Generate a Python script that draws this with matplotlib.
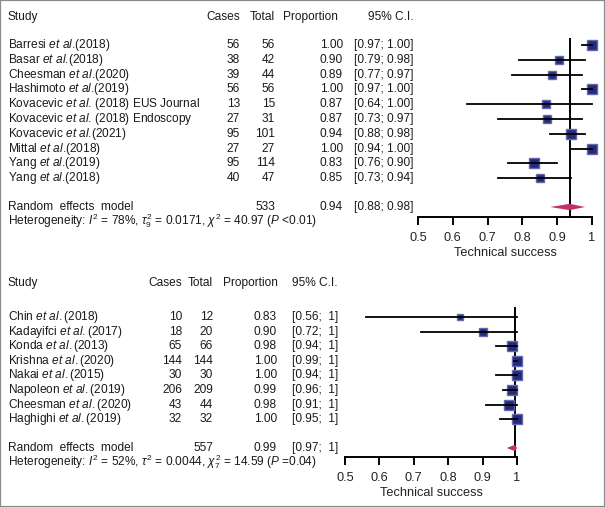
import numpy as np
import matplotlib
matplotlib.use("Agg")
import matplotlib.pyplot as plt
import matplotlib.transforms as mtransforms
from matplotlib.patches import Rectangle

plt.rcParams["font.family"] = ["Liberation Sans", "DejaVu Sans"]
plt.rcParams["mathtext.fontset"] = "custom"
plt.rcParams["mathtext.rm"] = "Liberation Sans"
plt.rcParams["mathtext.it"] = "Liberation Sans:italic"
plt.rcParams["mathtext.bf"] = "Liberation Sans:bold"

# top panel data
top_studies = ["Barresi", "Basar", "Cheesman", "Hashimoto", "Kovacevic", "Kovacevic",
               "Kovacevic", "Mittal", "Yang", "Yang"]
top_years = [".(2018)", ".(2018)", ".(2020)", ".(2019)", ". (2018) EUS Journal",
             ". (2018) Endoscopy", ".(2021)", ".(2018)", ".(2019)", ".(2018)"]
top_cases = [56, 38, 39, 56, 13, 27, 95, 27, 95, 40]
top_total = [56, 42, 44, 56, 15, 31, 101, 27, 114, 47]
top_lo = [0.97, 0.79, 0.77, 0.97, 0.64, 0.73, 0.88, 0.94, 0.76, 0.73]
top_hi = [1.00, 0.98, 0.97, 1.00, 1.00, 0.97, 0.98, 1.00, 0.90, 0.94]
top_pooled = (0.936, 0.88, 0.98)
top_het = dict(i2=78, tau2=0.0171, df=9, chi2=40.97, p="<0.01")

# bottom panel data
bot_studies = ["Chin", "Kadayifci", "Konda", "Krishna", "Nakai", "Napoleon", "Cheesman", "Haghighi"]
bot_years = ["(2018)", "(2017)", "(2013)", "(2020)", "(2015)", "(2019)", "(2020)", "(2019)"]
bot_cases = [10, 18, 65, 144, 30, 206, 43, 32]
bot_total = [12, 20, 66, 144, 30, 209, 44, 32]
bot_lo = [0.56, 0.72, 0.94, 0.99, 0.94, 0.96, 0.91, 0.95]
bot_hi = [1, 1, 1, 1, 1, 1, 1, 1]
bot_pooled = (0.994, 0.97, 1.0)
bot_het = dict(i2=52, tau2=0.0044, df=7, chi2=14.59, p="=0.04")

W, H = 605, 507
FS = 8.6
SQ_FACE = "#252a7a"
SQ_EDGE = "#6468ae"
DIAMOND = "#c2306b"

fig = plt.figure(figsize=(W / 100, H / 100), dpi=100)
fig.patches.append(Rectangle((0, 0), 1, 1, transform=fig.transFigure, fill=False,
                             edgecolor="#8a8a8a", linewidth=1.6))


def fx(px):
    return px / W


def panel(labels, cases, total, lo, hi, pooled, het, lay, ci_fmt, tau_sub):
    row0, step, ax_l, ax_r, ax_b, ax_t = lay["row0"], lay["step"], lay["l"], lay["r"], lay["b"], lay["t"]
    n = len(labels)
    ax = fig.add_axes([fx(ax_l), 1 - ax_b / H, fx(ax_r - ax_l), (ax_b - ax_t) / H])
    ax.set_xlim(0.5, 1.0)
    ax.set_ylim((ax_b - row0) / step, (ax_t - row0) / step)
    for s in ["top", "right", "left"]:
        ax.spines[s].set_visible(False)
    ax.spines["bottom"].set_linewidth(1.4)
    ax.set_yticks([])
    ax.set_xticks([0.5, 0.6, 0.7, 0.8, 0.9, 1.0])
    ax.set_xticklabels(["0.5", "0.6", "0.7", "0.8", "0.9", "1"], fontsize=FS + 0.6, color="#222222")
    ax.tick_params(axis="x", length=6, width=1.4, pad=5)
    ax.set_xlabel("Technical success", fontsize=FS + 0.6, color="#222222", labelpad=2)
    ax.patch.set_alpha(0)

    rows = np.arange(n)
    props = np.array(cases) / np.array(total)
    # random effects weights -> square size
    var = props * (1 - props) / np.array(total)
    w = 1 / (var + het["tau2"])
    sizes = lay["sq"] * np.sqrt(w / w.max()) * 72 / 100

    est, plo, phi = pooled
    rand_row = (lay["rand"] - row0) / step
    het_row = (lay["het"] - row0) / step
    head_row = (lay["head"] - row0) / step

    ax.plot([est, est], [lay["vtop"], ax.get_ylim()[0]], color="black", lw=1.4, clip_on=False, zorder=1)
    for i in range(n):
        ax.plot(props[i], rows[i], marker="s", ms=sizes[i], mfc=SQ_FACE, mec=SQ_EDGE,
                mew=1.0, clip_on=False, zorder=3)
        ax.plot([lo[i], hi[i]], [rows[i], rows[i]], color="black", lw=1.3, clip_on=False, zorder=4)
    dh = 3.2 / step
    ax.fill([plo, est, phi, est], [rand_row, rand_row - dh, rand_row, rand_row + dh],
            color=DIAMOND, clip_on=False, zorder=3, lw=0)

    tr = mtransforms.blended_transform_factory(fig.transFigure, ax.transData)
    c = lay["cols"]
    txt = dict(transform=tr, fontsize=FS, va="center", color="#1a1a1a")
    fig.text(fx(8), head_row, "Study", ha="left", **txt)
    fig.text(fx(c["cases"]), head_row, "Cases", ha="right", **txt)
    fig.text(fx(c["total"]), head_row, "Total", ha="right", **txt)
    fig.text(fx(c["prop_h"]), head_row, "Proportion", ha="right", **txt)
    fig.text(fx(c["ci"]), head_row, "95% C.I.", ha="right", **txt)
    for i in range(n):
        fig.text(fx(8), rows[i], labels[i], ha="left", **txt)
        fig.text(fx(c["cases"]), rows[i], str(cases[i]), ha="right", **txt)
        fig.text(fx(c["total"]), rows[i], str(total[i]), ha="right", **txt)
        fig.text(fx(c["prop"]), rows[i], f"{props[i]:.2f}", ha="right", **txt)
        fig.text(fx(c["ci"]), rows[i], ci_fmt(lo[i], hi[i]), ha="right", **txt)
    fig.text(fx(8), rand_row, "Random  effects  model", ha="left", **txt)
    fig.text(fx(c["total"]), rand_row, str(sum(total)), ha="right", **txt)
    fig.text(fx(c["prop"]), rand_row, f"{est:.2f}", ha="right", **txt)
    fig.text(fx(c["ci"]), rand_row, ci_fmt(plo, phi), ha="right", **txt)
    if tau_sub:
        tau = rf"$\tau^2_{{{het['df']}}}$"
        chi = r"$\chi^2$"
    else:
        tau = r"$\tau^2$"
        chi = rf"$\chi^2_{{{het['df']}}}$"
    het_txt = (rf"Heterogeneity: $I^2$ = {het['i2']}%, {tau} = {het['tau2']:.4f}, "
               rf"{chi} = {het['chi2']:.2f} ($P$ {het['p']})")
    fig.text(fx(8), het_row, het_txt, ha="left", **txt)
    return ax


top_labels = [f"{s} $\\mathit{{et\\ al}}${y}" for s, y in zip(top_studies, top_years)]
bot_labels = [f"{s} $\\mathit{{et\\ al.}}${y}" for s, y in zip(bot_studies, bot_years)]

top_lay = dict(row0=45, step=14.8, l=418, r=592, b=217, t=30, rand=207, het=221, head=17,
               vtop=-0.42, sq=9.5,
               cols=dict(cases=240, total=275, prop_h=338, prop=343, ci=413))
bot_lay = dict(row0=317, step=14.6, l=345, r=517, b=457, t=300, rand=448, het=462, head=283,
               vtop=-0.62, sq=10.5,
               cols=dict(cases=182, total=213, prop_h=278, prop=277, ci=338))

panel(top_labels, top_cases, top_total, top_lo, top_hi, top_pooled, top_het, top_lay,
      lambda a, b: f"[{a:.2f}; {b:.2f}]", True)
panel(bot_labels, bot_cases, bot_total, bot_lo, bot_hi, bot_pooled, bot_het, bot_lay,
      lambda a, b: f"[{a:.2f};  {b:g}]", False)

fig.savefig("out.png", dpi=100)
